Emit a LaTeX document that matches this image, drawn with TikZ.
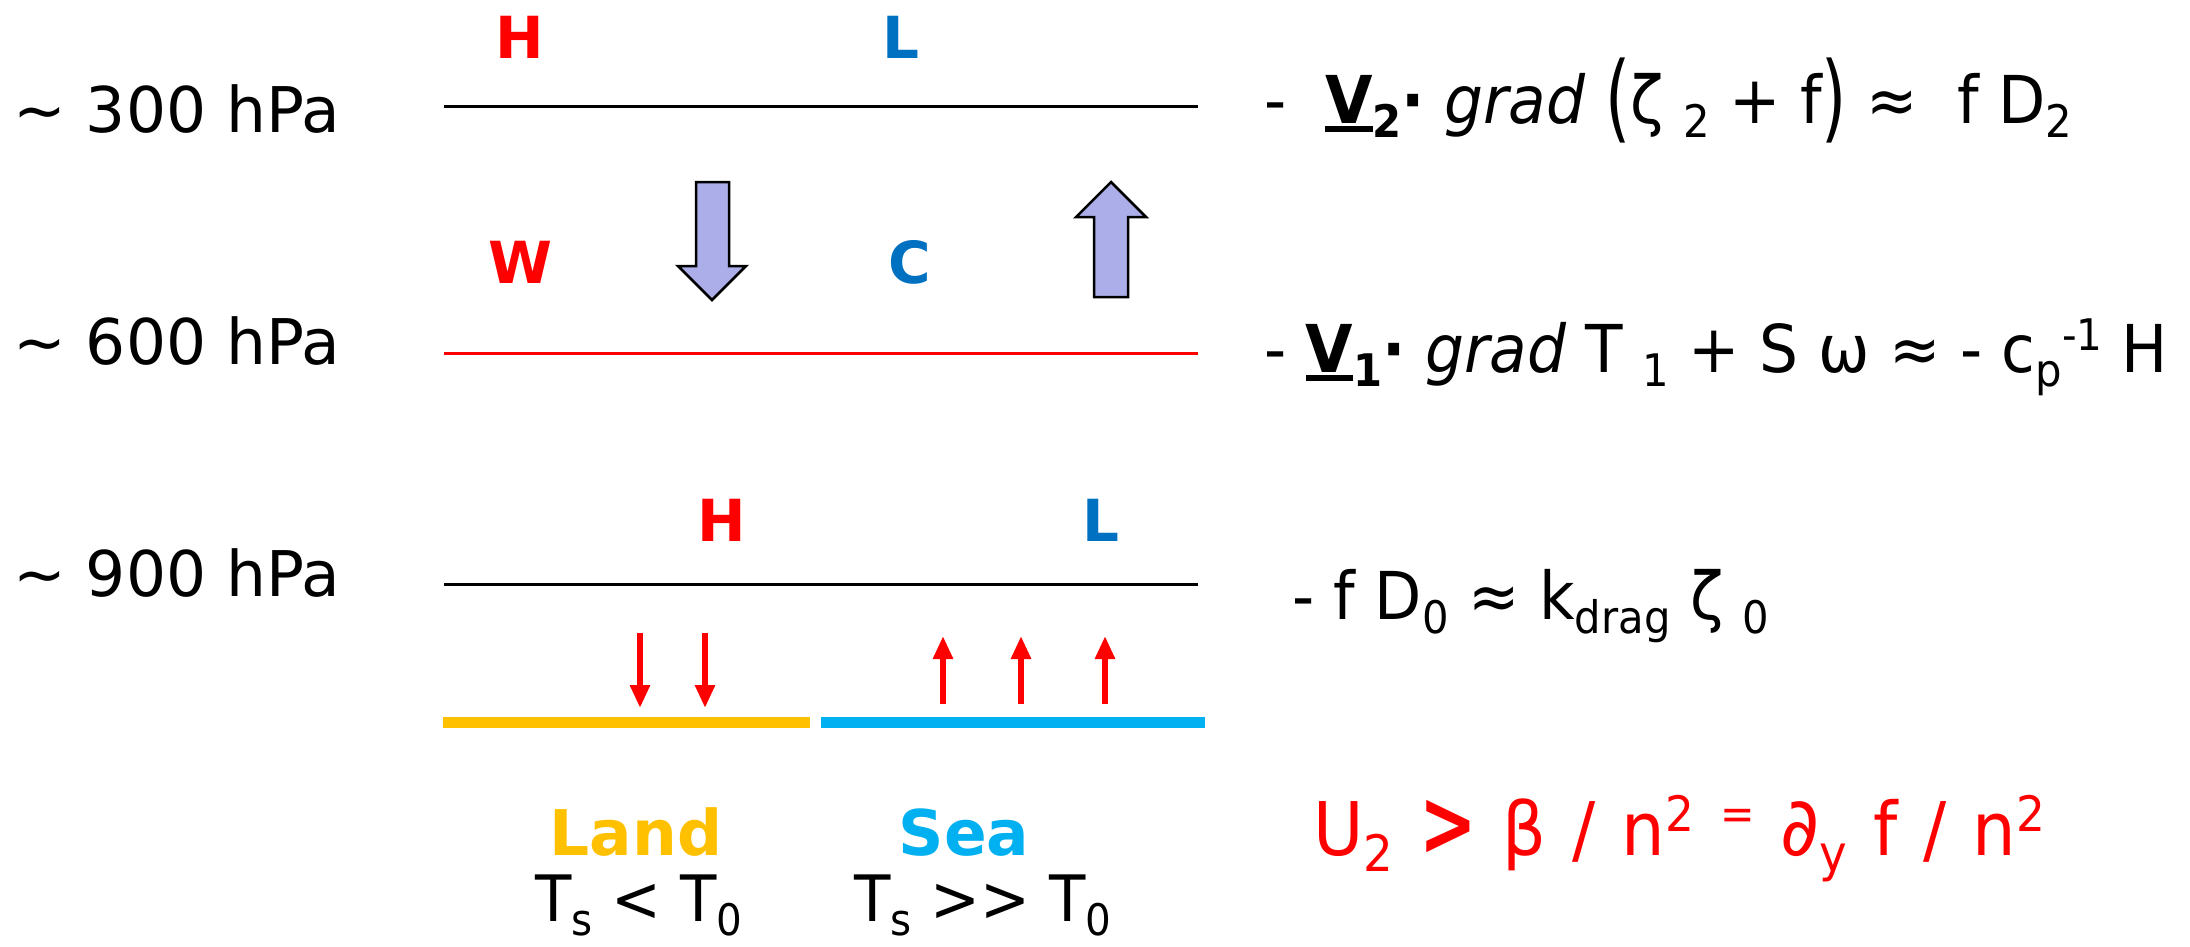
\documentclass[tikz,border=0pt]{standalone}
\usepackage{fontspec}
\usepackage{graphicx}
\setmainfont{DejaVu Sans}
\newfontfamily\eqf[FakeStretch=0.93]{DejaVu Sans}
\usetikzlibrary{arrows.meta}
\definecolor{hred}{RGB}{255,0,0}
\definecolor{lblue}{RGB}{0,112,192}
\definecolor{landc}{RGB}{255,192,0}
\definecolor{seac}{RGB}{0,176,240}
\definecolor{lav}{RGB}{172,174,234}
\newcommand\mysub[1]{\raisebox{-0.22em}{\scalebox{0.68}{#1}}}
\newcommand\mysup[1]{\raisebox{0.32em}{\scalebox{0.66}{#1}}}
\newcommand\bigpar[1]{\raisebox{-0.12em}{\scalebox{1.05}[1.45]{#1}}}
\newcommand\ulbox[1]{\setbox0\hbox{#1}\rlap{\rule[-0.135em]{\wd0}{0.09em}}\box0}
\newcommand\gap{\hspace{0.35em}}
\begin{document}
\begin{tikzpicture}[x=1pt,y=-1pt,
  lvl/.style={anchor=base west,font=\fontsize{63}{70}\selectfont,inner sep=0},
  eq/.style={anchor=base west,font=\eqf\fontsize{66}{72}\selectfont,inner sep=0},
  bigeq/.style={anchor=base west,font=\eqf\fontsize{74}{80}\selectfont,inner sep=0},
  hl/.style={anchor=base,font=\bfseries\fontsize{58}{64}\selectfont,inner sep=0},
  surf/.style={anchor=base,font=\bfseries\fontsize{63}{70}\selectfont,inner sep=0},
  tsl/.style={anchor=base,font=\eqf\fontsize{64}{70}\selectfont,inner sep=0},
  layer/.style={line width=3pt},
  hollow/.style={draw=black,line width=2.5pt,fill=lav,line join=miter},
  redarr/.style={draw=hred,line width=6.5pt,-{Triangle[width=19pt,length=23pt]}},
  bar/.style={line width=11pt}]
\useasboundingbox (0,0) rectangle (2190,946);
% level labels
\node[lvl] (p300) at (13,132) {\textasciitilde\ 300 hPa};
\node[lvl] (p600) at (13,364) {\textasciitilde\ 600 hPa};
\node[lvl] (p900) at (13,596) {\textasciitilde\ 900 hPa};
% level lines
\draw[layer] (444,106) -- (1198,106);
\draw[layer,hred] (444,353) -- (1198,353);
\draw[layer] (444,584) -- (1198,584);
% H L W C labels
\node[hl,hred] (h1) at (520,58) {H};
\node[hl,lblue] (l1) at (901,58) {L};
\node[hl,hred] (w1) at (520,283) {W};
\node[hl,lblue] (c1) at (910,283) {C};
\node[hl,hred] (h2) at (722,541) {H};
\node[hl,lblue] (l2) at (1101,541) {L};
% hollow arrows
\draw[hollow] (696,182) -- (729,182) -- (729,266) -- (746,266) -- (712,300) -- (678,266) -- (696,266) -- cycle;
\draw[hollow] (1111,182) -- (1146,217) -- (1128,217) -- (1128,297) -- (1094,297) -- (1094,217) -- (1076,217) -- cycle;
% red arrows
\draw[redarr] (640,633) -- (640,708);
\draw[redarr] (705,633) -- (705,708);
\draw[redarr] (943,704) -- (943,636);
\draw[redarr] (1021,704) -- (1021,636);
\draw[redarr] (1105,704) -- (1105,636);
% surface bars
\draw[bar,landc] (443,722) -- (810,722);
\draw[bar,seac] (821,722) -- (1205,722);
% surface labels
\node[surf,landc] (land) at (636,855) {Land};
\node[surf,seac] (sea) at (964,855) {Sea};
\node[tsl] (tland) at (639,921) {T\mysub{s} {<} T\mysub{0}};
\node[tsl] (tsea) at (983,921) {T\mysub{s} {>}{>} T\mysub{0}};
% equations
\node[eq] (eq1) at (1264,123) {-\ \ \ulbox{\textbf{V}}\mysub{\textbf{2}}\textbf{·} \textit{grad} \bigpar{(}ζ \mysub{2} + f\bigpar{)} ≈\ \ f D\mysub{2}};
\node[eq] (eq2) at (1264,372) {- \ulbox{\textbf{V}}\mysub{\textbf{1}}\textbf{·} \textit{grad} T \mysub{1} + S ω ≈ - c\mysub{p}\mysup{-1} H};
\node[eq] (eq3) at (1292,619) {- f D\mysub{0} ≈\ k\mysub{drag} ζ \mysub{0}};
\node[bigeq,hred] (eq4) at (1313,855) {U\mysub{2}\gap\scalebox{1}[1.25]{\textbf{>}}\gap β\gap/\gap n\mysup{2}\gap\raisebox{0.34em}{\scalebox{0.6}{=}}\gap\scalebox{1.1}{∂}\mysub{y}\gap f\gap/\gap n\mysup{2}};
\end{tikzpicture}
\end{document}
